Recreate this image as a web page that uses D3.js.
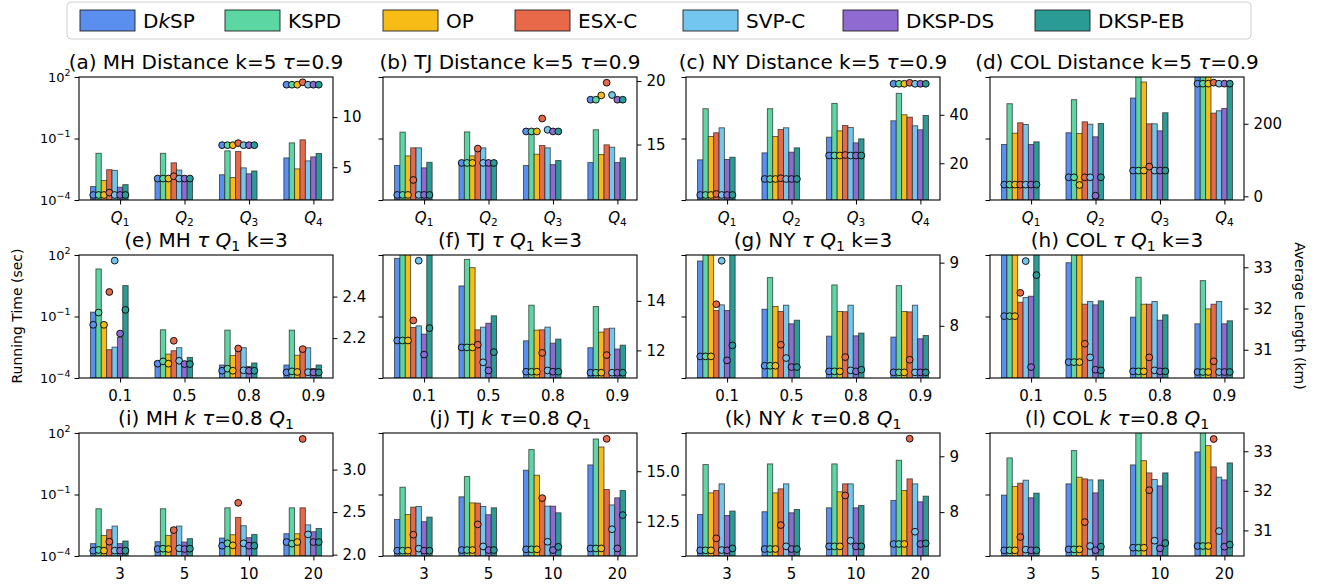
<!DOCTYPE html>
<html><head><meta charset="utf-8">
<script src="https://cdn.jsdelivr.net/npm/d3@7"></script>
<style>
body{margin:0;background:#fff}
svg{display:block}
text{font-family:"DejaVu Sans",sans-serif}
</style>
</head><body>
<svg id="c" width="1317" height="586"></svg>
<script>
// ---------------- data ----------------
const methods = ["DkSP","KSPD","OP","ESX-C","SVP-C","DKSP-DS","DKSP-EB"];
const colors  = ["#5a8ff0","#5cd6a2","#f8bc17","#e8694a","#72c6ef","#8f6bd1","#2b9b95"];

const groupsQ   = ["Q1","Q2","Q3","Q4"];
const groupsTau = ["0.1","0.5","0.8","0.9"];
const groupsK   = ["3","5","10","20"];

const timeTicks = [1e-4, 1e-1, 1e2];

// running time (sec), one array per group, 7 methods each
const timeA = [[4.5e-4,0.019,8.9e-4,3.0e-3,2.8e-3,4.2e-4,5.6e-4],[8.9e-4,0.019,7.9e-4,6.5e-3,2.9e-3,1.07e-3,9.9e-4],[1.7e-3,0.025,1.24e-3,0.023,3.7e-3,1.9e-3,2.6e-3],[0.0113,0.061,3.3e-3,0.086,8.1e-3,0.0127,0.0185]];
const timeB = [[4.8e-3,0.204,0.0142,0.035,0.035,3.7e-3,6.9e-3],[6.9e-3,0.21,0.0142,0.0259,0.035,6.9e-3,6.9e-3],[4.8e-3,0.169,0.0171,0.0455,0.035,5.3e-3,8.4e-3],[6.7e-3,0.266,0.0165,0.049,0.0377,6.7e-3,0.0113]];
const timeC = [[9.1e-3,2.83,0.125,0.19,0.333,9.4e-3,0.0122],[0.0199,2.83,0.125,0.276,0.333,0.0215,0.035],[0.116,5.15,0.237,0.433,0.345,0.0614,0.096],[0.73,15.9,1.44,1.1,0.417,0.266,1.33]];
const timeD = [[0.051,4.97,0.182,0.584,0.484,0.051,0.0687],[0.19,7.8,0.176,0.65,0.50,0.121,0.54],[9.4,200,57,0.52,0.52,0.237,1.8],[200,200,200,1.73,2.25,2.93,61]];
const timeE = [[0.163,20.8,0.051,2.4e-3,3.2e-3,9.5e-3,3.22],[6.5e-4,0.0224,1.47e-3,2.14e-3,3.0e-3,6.5e-4,1.01e-3],[4.3e-4,0.0216,1.27e-3,2.9e-3,3.0e-3,3.7e-4,5.4e-4],[4.3e-4,0.0216,1.29e-3,2.5e-3,3.0e-3,2.9e-4,4.3e-4]];
const timeF = [[68.8,200,200,0.029,0.035,0.0138,200],[3.1,61.5,24.2,0.0224,0.0303,0.047,0.108],[6.5e-3,0.356,0.0216,0.0224,0.0303,5.0e-3,7.9e-3],[3.0e-3,0.306,0.0173,0.0251,0.027,2.6e-3,4.0e-3]];
const timeG = [[51,200,200,0.196,0.37,0.196,200],[0.227,7.9,0.306,0.175,0.356,0.044,0.066],[0.011,3.47,0.175,0.171,0.356,0.0114,0.0155],[9.9e-3,3.2,0.175,0.168,0.356,8.2e-3,0.0119]];
const timeH = [[200,200,200,0.498,0.84,0.975,200],[42,200,200,0.398,0.537,0.37,0.578],[0.093,8.2,0.398,0.398,0.537,0.066,0.12],[0.044,5.6,0.236,0.398,0.537,0.044,0.0615]];
const timeI = [[4.0e-4,0.0201,1.01e-3,1.91e-3,2.88e-3,4.0e-4,5.4e-4],[5.0e-4,0.0201,1.01e-3,2.4e-3,2.88e-3,4.8e-4,7.0e-4],[7.5e-4,0.0224,1.09e-3,7.6e-3,3.0e-3,7.8e-4,1.13e-3],[1.22e-3,0.0224,1.22e-3,0.0224,3.3e-3,1.53e-3,2.2e-3]];
const timeJ = [[6.1e-3,0.227,0.0106,0.0242,0.026,4.7e-3,7.9e-3],[0.077,0.75,0.039,0.0379,0.026,0.0103,0.0224],[1.53,15.5,0.87,0.057,0.027,0.027,0.0128],[2.77,51,20.8,0.175,0.031,0.069,0.156]];
const timeK = [[0.0106,2.88,0.12,0.156,0.33,9.5e-3,0.0155],[0.0144,3.1,0.12,0.189,0.33,0.0128,0.0186],[0.0224,3.1,0.135,0.33,0.33,0.0224,0.029],[0.051,4.68,0.156,0.578,0.33,0.044,0.083]];
const timeL = [[0.093,6.08,0.245,0.356,0.498,0.069,0.116],[0.33,13.8,0.70,0.578,0.516,0.12,0.516],[2.77,200,4.5,1.13,0.537,0.264,1.13],[11.9,200,24.2,2.22,0.70,0.516,3.47]];

// average length (km)
const lenA = [[2.23,2.23,2.23,2.47,2.23,2.23,2.23],[3.87,3.87,3.87,4.1,3.87,3.87,3.87],[7.2,7.2,7.2,7.4,7.2,7.2,7.2],[13.23,13.23,13.23,13.47,13.23,13.23,13.23]];
const lenB = [[11.03,11.03,11.03,12.21,11.03,11.03,11.03],[13.55,13.55,13.55,14.68,13.55,13.55,13.55],[16.03,16.03,16.03,17.05,16.16,16.03,16.03],[18.53,18.53,18.87,19.87,18.9,18.53,18.53]];
const lenC = [[6.9,6.9,6.9,7.3,6.9,6.9,6.9],[13.5,13.5,13.5,13.8,13.5,13.5,13.5],[23.2,23.2,23.2,23.4,23.2,23.2,23.2],[52.8,52.8,52.8,53.2,52.8,52.8,52.8]];
const lenD = [[32.3,32.3,32.3,32.3,32.3,32.3,32.3],[52.5,52.5,31.3,52.5,52.5,1.8,52.5],[71,71,71,82,71,71,71],[310.6,310.6,310.6,313.4,310.6,310.6,310.6]];
const lenE = [[2.264,2.323,2.264,2.422,2.573,2.222,2.336],[2.077,2.088,2.077,2.187,2.091,2.075,2.075],[2.043,2.053,2.043,2.15,2.045,2.043,2.043],[2.035,2.04,2.037,2.147,2.036,2.035,2.035]];
const lenF = [[12.4,12.4,12.4,13.21,15.62,11.83,12.9],[12.12,12.12,12.12,12.23,11.52,11.19,11.93],[11.14,11.14,11.14,11.9,11.19,11.14,11.14],[11.1,11.1,11.1,11.81,11.1,11.1,11.1]];
const lenG = [[7.516,7.516,7.516,8.342,9.03,7.453,7.69],[7.368,7.368,7.368,7.7,7.49,7.347,7.347],[7.279,7.279,7.279,7.505,7.295,7.279,7.305],[7.263,7.263,7.263,7.463,7.263,7.263,7.263]];
const lenH = [[31.815,31.815,31.815,32.38,33.15,30.58,32.81],[30.70,30.70,30.70,31.145,30.815,30.516,30.5],[30.476,30.476,30.476,30.815,30.5,30.476,30.476],[30.46,30.46,30.46,30.72,30.46,30.46,30.46]];
const lenI = [[2.047,2.055,2.047,2.152,2.047,2.047,2.047],[2.066,2.07,2.066,2.289,2.074,2.066,2.07],[2.105,2.133,2.109,2.609,2.133,2.105,2.105],[2.148,2.129,2.148,3.36,2.238,2.148,2.148]];
const lenJ = [[11.07,11.07,11.07,11.86,11.17,11.07,11.07],[11.1,11.1,11.1,12.37,11.28,11.1,11.1],[11.135,11.135,11.135,13.67,11.51,11.1,11.26],[11.18,11.18,11.18,16.6,12.13,11.18,12.83]];
const lenK = [[7.315,7.315,7.315,7.53,7.32,7.315,7.35],[7.339,7.339,7.339,7.768,7.387,7.339,7.339],[7.387,7.387,7.387,8.298,7.488,7.387,7.387],[7.429,7.429,7.429,9.315,7.649,7.429,7.44]];
const lenL = [[30.496,30.496,30.496,30.832,30.513,30.496,30.496],[30.52,30.52,30.52,31.21,30.605,30.5,30.59],[30.563,30.563,30.563,32.017,30.74,30.546,30.68],[30.605,30.605,30.605,33.31,30.983,30.588,30.64]];

// right-axis ranges and ticks
const lenDomains = [[1.73,14.0],[10.63,20.32],[4.83,55.6],[-10.1,329],[2.008,2.6],[10.886,15.85],[7.174,9.121],[30.315,33.298],[1.984,3.43],[10.806,16.89],[7.214,9.417],[30.353,33.462]];
const lenTicks = [[5,10],[15,20],[20,40],[0,200],[2.2,2.4],[12,14],[8,9],[31,32,33],[2.0,2.5,3.0],[12.5,15.0],[8,9],[31,32,33]];
const lenTickFmt = ["d","d","d","d",".1f","d","d","d",".1f",".1f","d","d"];

// titles: segments [text, style] ; style: n normal, i italic, s subscript
const titles = [
 [["(a) MH Distance k=5 ","n"],["τ","i"],["=0.9","n"]],
 [["(b) TJ Distance k=5 ","n"],["τ","i"],["=0.9","n"]],
 [["(c) NY Distance k=5 ","n"],["τ","i"],["=0.9","n"]],
 [["(d) COL Distance k=5 ","n"],["τ","i"],["=0.9","n"]],
 [["(e) MH ","n"],["τ","i"],[" ","n"],["Q","i"],["1","s"],[" k=3","n"]],
 [["(f) TJ ","n"],["τ","i"],[" ","n"],["Q","i"],["1","s"],[" k=3","n"]],
 [["(g) NY ","n"],["τ","i"],[" ","n"],["Q","i"],["1","s"],[" k=3","n"]],
 [["(h) COL ","n"],["τ","i"],[" ","n"],["Q","i"],["1","s"],[" k=3","n"]],
 [["(i) MH ","n"],["k","i"],[" ","n"],["τ","i"],["=0.8 ","n"],["Q","i"],["1","s"]],
 [["(j) TJ ","n"],["k","i"],[" ","n"],["τ","i"],["=0.8 ","n"],["Q","i"],["1","s"]],
 [["(k) NY ","n"],["k","i"],[" ","n"],["τ","i"],["=0.8 ","n"],["Q","i"],["1","s"]],
 [["(l) COL ","n"],["k","i"],[" ","n"],["τ","i"],["=0.8 ","n"],["Q","i"],["1","s"]]
];

const times = [timeA,timeB,timeC,timeD,timeE,timeF,timeG,timeH,timeI,timeJ,timeK,timeL];
const lens  = [lenA,lenB,lenC,lenD,lenE,lenF,lenG,lenH,lenI,lenJ,lenK,lenL];
const rowGroups = [groupsQ, groupsTau, groupsK];

// ---------------- drawing ----------------
const svg = d3.select("#c");
const W = 254, H = 123;
const lefts = [79, 383, 686, 990];
const tops = [77, 255, 433];
const bw = 1/12, R = 3 + 7*bw, mg = 0.05*R;

function addSegments(t, segs, fs){
  let shifted = false;
  segs.forEach(([s, st]) => {
    const sp = t.append("tspan").text(s);
    if (st === "i") sp.attr("font-style","italic");
    if (st === "s") { sp.attr("font-size", fs*0.7).attr("dy", fs*0.22); shifted = true; }
    else if (shifted) { sp.attr("dy", -fs*0.22); shifted = false; }
  });
}

const defs = svg.append("defs");

times.forEach((tData, idx) => {
  const r = Math.floor(idx/4), c = idx % 4;
  const x0 = lefts[c], y0 = tops[r];
  const x = d3.scaleLinear().domain([-5.5*bw - mg, 3 + 1.5*bw + mg]).range([x0, x0 + W]);
  const yL = d3.scaleLog().domain([1e-4, 1e2]).range([y0 + H, y0]);
  const yR = d3.scaleLinear().domain(lenDomains[idx]).range([y0 + H, y0]);
  const g = svg.append("g");

  defs.append("clipPath").attr("id","clip"+idx)
    .append("rect").attr("x",x0).attr("y",y0).attr("width",W).attr("height",H);

  // bars
  const bars = g.append("g").attr("clip-path","url(#clip"+idx+")");
  tData.forEach((vals, gi) => {
    vals.forEach((v, mi) => {
      const xl = x(gi + (mi - 5.5)*bw), xr = x(gi + (mi - 4.5)*bw);
      bars.append("rect")
        .attr("x", xl).attr("width", xr - xl)
        .attr("y", yL(v)).attr("height", yL(1e-4) - yL(v))
        .attr("fill", colors[mi])
        .attr("stroke", "#222").attr("stroke-opacity", 0.75).attr("stroke-width", 0.9);
    });
  });

  // left axis
  const axL = g.append("g").attr("transform", `translate(${x0},0)`)
    .call(d3.axisLeft(yL).tickValues(timeTicks).tickSize(4.5).tickPadding(4).tickSizeOuter(0));
  axL.select(".domain").remove();
  axL.selectAll("text").attr("font-family","DejaVu Sans").attr("font-size",13).attr("fill","#000")
    .each(function(d){
      const t = d3.select(this); t.text(null);
      if (c !== 0) return;
      const e = Math.round(Math.log10(d));
      t.append("tspan").text("10");
      t.append("tspan").attr("dy",-6).attr("font-size",9.5).text(e < 0 ? "−" + (-e) : String(e));
    });
  axL.selectAll("line").attr("stroke","#000");

  // right axis
  const axR = g.append("g").attr("transform", `translate(${x0 + W},0)`)
    .call(d3.axisRight(yR).tickValues(lenTicks[idx]).tickFormat(d3.format(lenTickFmt[idx])).tickSize(4.5).tickPadding(5).tickSizeOuter(0));
  axR.select(".domain").remove();
  axR.selectAll("text").attr("font-family","DejaVu Sans").attr("font-size",15).attr("fill","#000");
  axR.selectAll("line").attr("stroke","#000");

  // bottom axis (ticks), labels drawn explicitly
  const axB = g.append("g").attr("transform", `translate(0,${y0 + H})`)
    .call(d3.axisBottom(x).tickValues([0,1,2,3]).tickSize(4.5).tickSizeOuter(0).tickFormat(""));
  axB.select(".domain").remove();
  axB.selectAll("line").attr("stroke","#000");
  axB.selectAll("text").remove();
  rowGroups[r].forEach((lab, gi) => {
    const t = g.append("text").attr("x", x(gi)).attr("y", y0 + H + 22.5)
      .attr("text-anchor","middle").attr("font-size",15).attr("fill","#000");
    if (r === 0) {
      t.append("tspan").attr("font-style","italic").text(lab[0]);
      t.append("tspan").attr("font-size",10.5).attr("dy",3.5).text(lab.slice(1));
    } else t.text(lab);
  });

  // frame
  g.append("rect").attr("x",x0).attr("y",y0).attr("width",W).attr("height",H)
    .attr("fill","none").attr("stroke","#000").attr("stroke-width",1.1);

  // dots
  const dots = g.append("g");
  lens[idx].forEach((vals, gi) => {
    vals.forEach((v, mi) => {
      dots.append("circle")
        .attr("cx", x(gi + (mi - 5)*bw)).attr("cy", yR(v)).attr("r", 3.4)
        .attr("fill", colors[mi]).attr("stroke","#000").attr("stroke-width",0.9);
    });
  });

  // title
  const tt = svg.append("text").attr("x", x0 + W/2).attr("y", y0 - 8)
    .attr("text-anchor","middle").attr("font-size",20).attr("fill","#000");
  addSegments(tt, titles[idx], 20);
});

// axis titles
svg.append("text").attr("transform","translate(22,316) rotate(-90)").attr("text-anchor","middle")
  .attr("font-size",14).text("Running Time (sec)");
svg.append("text").attr("transform","translate(1295,316) rotate(90)").attr("text-anchor","middle")
  .attr("font-size",14).text("Average Length (km)");

// legend
const lg = svg.append("g");
lg.append("rect").attr("x",67).attr("y",2).attr("width",1184).attr("height",37).attr("rx",4)
  .attr("fill","#fff").attr("stroke","#d0d0d0").attr("stroke-width",1);
const swX = [80, 225, 383, 515, 683, 843, 1035];
methods.forEach((m, i) => {
  lg.append("rect").attr("x", swX[i]).attr("y", 10).attr("width", 55).attr("height", 21)
    .attr("fill", colors[i]).attr("stroke","#222").attr("stroke-width",0.9);
  const t = lg.append("text").attr("x", swX[i] + 63).attr("y", 28).attr("font-size", 20);
  if (m === "DkSP") addSegments(t, [["D","n"],["k","i"],["SP","n"]], 20);
  else t.text(m);
});
</script>
</body></html>
